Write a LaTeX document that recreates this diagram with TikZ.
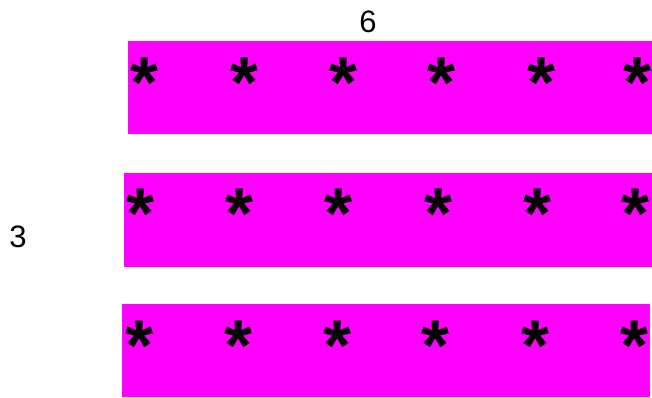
\documentclass[tikz,border=0pt]{standalone}
\usepackage{fontspec}
\setmainfont{Liberation Sans}
\definecolor{mag}{HTML}{FF00FF}
\begin{document}
\begin{tikzpicture}[x=1pt,y=-1pt,
  bar/.style={fill=mag,draw=none},
  star/.style={inner sep=0pt,anchor=north,font=\fontsize{72}{72}\selectfont\bfseries},
  lbl/.style={inner sep=0pt,font=\fontsize{31}{31}\selectfont}]
\useasboundingbox (0,0) rectangle (652,397);
\fill[bar] (128,41) rectangle (652,134);
\fill[bar] (124,173) rectangle (652,267);
\fill[bar] (122,304) rectangle (650,397);
\foreach \x [count=\i] in {145,245,344,442,541,637} {\node[star] (a\i) at (\x,58) {*};}
\foreach \x [count=\i] in {141,240,339,439,537,635} {\node[star] (b\i) at (\x,189) {*};}
\foreach \x [count=\i] in {140,239,338,436,535,634} {\node[star] (c\i) at (\x,321) {*};}
\node[lbl] (six) at (368,22) {6};
\node[lbl] (three) at (18,237) {3};
\end{tikzpicture}
\end{document}
